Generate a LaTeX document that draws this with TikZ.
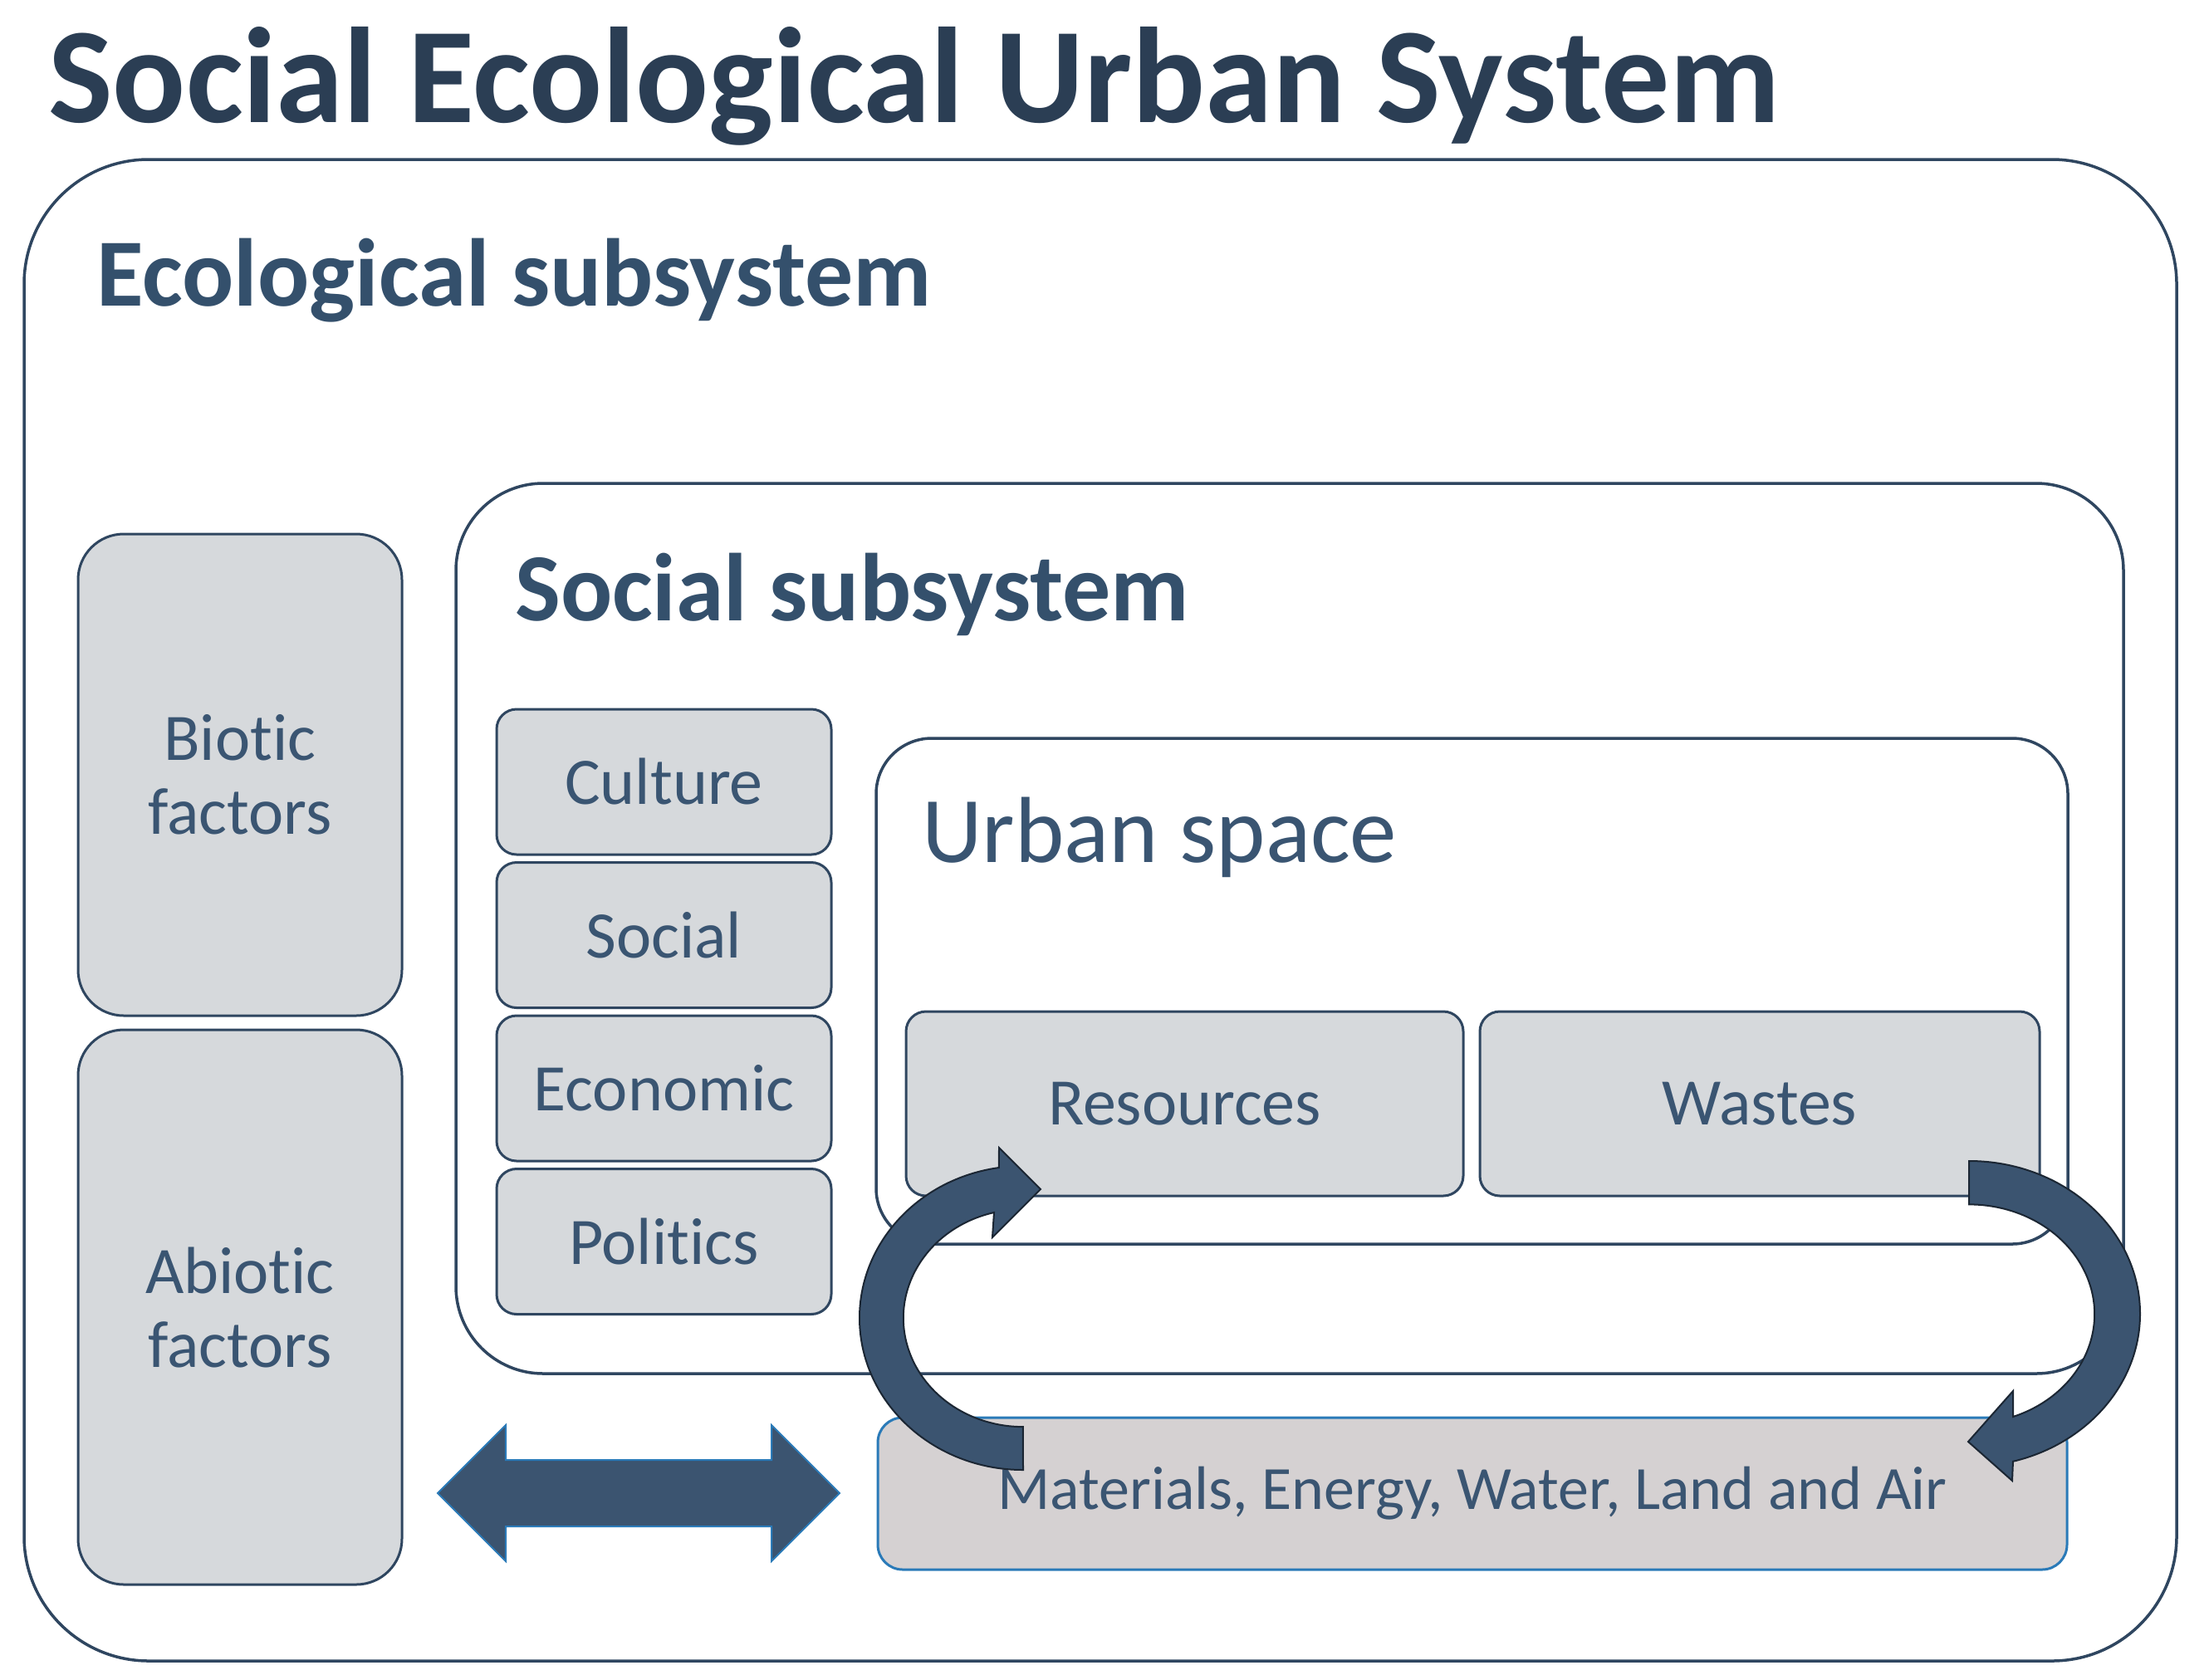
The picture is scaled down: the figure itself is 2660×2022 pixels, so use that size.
\documentclass[tikz,border=0pt]{standalone}
\usepackage{fontspec}
\setmainfont{Carlito}[Ligatures={NoCommon}, RawFeature={-liga;-clig;-calt}]
\definecolor{titlec}{HTML}{2B3E54}
\definecolor{headc}{HTML}{34506C}
\definecolor{txtc}{HTML}{3A5572}
\definecolor{linec}{HTML}{2F4660}
\definecolor{boxfill}{HTML}{D6D9DC}
\definecolor{matfill}{HTML}{D5D1D2}
\definecolor{matline}{HTML}{2A7AB8}
\definecolor{arrfill}{HTML}{3B5470}
\definecolor{arrline}{HTML}{1B2633}
\newcommand\mybody{\fontsize{80}{89}\selectfont}
\begin{document}
\begin{tikzpicture}[x=1pt,y=-1pt,
  container/.style={draw=linec, line width=3.5pt, fill=white, inner sep=0pt},
  gbox/.style={draw=linec, line width=3pt, fill=boxfill, text=txtc, font=\mybody, align=center, inner sep=0pt},
  heading/.style={anchor=base west, inner sep=0pt, text=headc, font=\fontsize{116}{130}\selectfont\bfseries},
  circarrow/.style={fill=arrfill, draw=arrline, line width=2pt, line join=miter},
  dblarrow/.style={fill=arrfill, draw=matline, line width=2pt, line join=miter}]
\useasboundingbox (0,0) rectangle (2660,2022);
\fill[white] (0,0) rectangle (2660,2022);

% title
\node[anchor=base west, inner sep=0pt, text=titlec, font=\fontsize{164}{180}\selectfont\bfseries] (title) at (58,147) {Social Ecological Urban System};

% containers
\node[container, rounded corners=150pt, minimum width=2592pt, minimum height=1808pt] (outer) at (1325,1096) {};
\node[heading] (ecol) at (116,368) {Ecological subsystem};

\node[gbox, rounded corners=55pt, minimum width=390pt, minimum height=580pt] (biotic) at (289,933) {Biotic\\factors};
\node[gbox, rounded corners=55pt, minimum width=390pt, minimum height=668pt] (abiotic) at (289,1574) {Abiotic\\factors};

\node[container, rounded corners=105pt, minimum width=2008pt, minimum height=1072pt] (socialsys) at (1553,1118) {};
\node[heading] (soch) at (620,747) {Social subsystem};

\node[gbox, rounded corners=24pt, minimum width=403pt, minimum height=175pt] (culture) at (799.5,941.5) {Culture};
\node[gbox, rounded corners=24pt, minimum width=403pt, minimum height=175pt] (social) at (799.5,1126) {Social};
\node[gbox, rounded corners=24pt, minimum width=403pt, minimum height=175pt] (economic) at (799.5,1310.5) {Economic};
\node[gbox, rounded corners=24pt, minimum width=403pt, minimum height=175pt] (politics) at (799.5,1495) {Politics};

\node[container, rounded corners=67pt, minimum width=1435pt, minimum height=609pt] (urban) at (1772.5,1193.5) {};
\node[anchor=base west, inner sep=0pt, text=txtc, font=\fontsize{113}{125}\selectfont] (urbanh) at (1110,1038) {Urban space};

\node[gbox, rounded corners=24pt, minimum width=671pt, minimum height=222pt] (resources) at (1426.5,1329) {Resources};
\node[gbox, rounded corners=24pt, minimum width=674pt, minimum height=222pt] (wastes) at (2119,1329) {Wastes};

\node[gbox, draw=matline, fill=matfill, rounded corners=30pt, minimum width=1432pt, minimum height=183pt, font=\fontsize{74}{84}\selectfont] (materials) at (1773,1798.5) {Materials, Energy, Water, Land and Air};

% double arrow
\coordinate (dl) at (527,1798);
\coordinate (dr) at (1011,1798);
\draw[dblarrow] (dl) -- (609,1716) -- (609,1758) -- (929,1758) -- (929,1716) -- (dr)
  -- (929,1880) -- (929,1838) -- (609,1838) -- (609,1880) -- cycle;

% circular arrows
\coordinate (lbase) at (1232,1770);
\coordinate (ltip) at (1253,1432);
\draw[circarrow] (lbase) arc[start angle=270, end angle=98.5, x radius=197pt, y radius=183pt]
  -- (1203,1382) -- (ltip) -- (1195,1490) -- (1197,1460)
  arc[start angle=104, end angle=270, x radius=144pt, y radius=131pt] -- cycle;

\coordinate (rbase) at (2371,1398);
\coordinate (rtip) at (2370,1736);
\draw[circarrow] (rbase) arc[start angle=90, end angle=-75.1, x radius=206pt, y radius=184pt]
  -- (2423,1783) -- (rtip) -- (2424,1675) -- (2424,1706)
  arc[start angle=-69.5, end angle=90, x radius=151pt, y radius=132pt] -- cycle;
\end{tikzpicture}
\end{document}
